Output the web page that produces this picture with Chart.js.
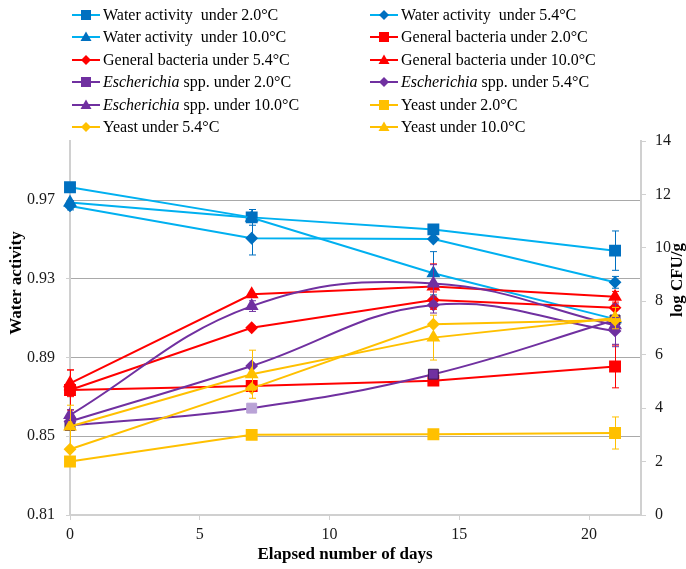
<!DOCTYPE html>
<html>
<head>
<meta charset="utf-8">
<script src="https://cdn.jsdelivr.net/npm/chart.js@4.4.1/dist/chart.umd.min.js"></script>
<style>
  body { margin: 0; background: #fff; }
  #wrap { position: relative; width: 686px; height: 569px; }
  #legend { position: absolute; left: 0; top: 0; width: 686px; height: 140px;
            font-family: "Liberation Serif", "Times New Roman", serif; font-size: 16px; color: #000; }
  .item { position: absolute; height: 20px; display: flex; align-items: center; white-space: pre; }
  .item svg { margin-right: 3px; }
</style>
</head>
<body>
<div id="wrap">
  <canvas id="chart" width="686" height="569"></canvas>
  <div id="legend"></div>
</div>
<script>
// days of storage
const days = [0, 7, 14, 21];

// water activity (left axis)
const wa20 = [0.9765, 0.9612, 0.9551, 0.9443];
const wa54 = [0.9670, 0.9506, 0.9502, 0.9282];
const wa100 = [0.9687, 0.9610, 0.9328, 0.9095];
const wa20Err = [0, 0.004, 0, 0.010];
const wa54Err = [0.002, 0.0085, 0, 0.003];
const wa100Err = [0.001, 0, 0.011, 0];

// log CFU/g (right axis)
const gb20 = [4.68, 4.83, 5.03, 5.56];
const gb54 = [4.68, 7.01, 8.05, 7.76];
const gb100 = [4.93, 8.26, 8.55, 8.17];
const gb20Err = [0.75, 0.2, 0, 0.8];
const gb54Err = [0, 0, 0.3, 0];
const gb100Err = [0.5, 0, 0.85, 0.2];

const es20 = [3.35, 4.00, 5.27, 7.30];
const es54 = [3.50, 5.58, 7.86, 6.89];
const es100 = [3.74, 7.82, 8.67, 7.10];
const es20Err = [0, 0, 0, 0];
const es54Err = [0, 0, 0.3, 0.5];
const es100Err = [0.2, 0.2, 0.7, 0.8];

const ye20 = [2.00, 3.00, 3.02, 3.07];
const ye54 = [2.46, 4.74, 7.14, 7.30];
const ye100 = [3.31, 5.27, 6.64, 7.37];
const ye20Err = [0, 0, 0, 0.6];
const ye54Err = [0, 0, 0, 0];
const ye100Err = [0.8, 0.9, 0.84, 0.4];

// tick labels
const xTicks = [0, 5, 10, 15, 20];
const leftTicks = [0.81, 0.85, 0.89, 0.93, 0.97];
const rightTicks = [0, 2, 4, 6, 8, 10, 12, 14];

const BLUE_LINE = '#00B0F0', BLUE = '#0070C0', RED = '#FF0000', PURPLE = '#7030A0', YELLOW = '#FFC000';

function serie(label, values, err, axis, line, mark, style, smooth) {
    return {
        label: label,
        data: values.map((v, i) => ({ x: days[i], y: v })),
        errors: err,
        yAxisID: axis,
        borderColor: line,
        backgroundColor: mark,
        pointBackgroundColor: mark,
        pointBorderColor: mark,
        pointStyle: style,
        pointRadius: style === 'rect' ? 7 : (style === 'triangle' ? 6 : 5),
        borderWidth: 2,
        tension: smooth ? 0.4 : 0,
        clip: false
    };
}

const datasets = [
    serie('Water activity  under 2.0°C', wa20, wa20Err, 'y', BLUE_LINE, BLUE, 'rect'),
    serie('Water activity  under 5.4°C', wa54, wa54Err, 'y', BLUE_LINE, BLUE, 'rectRot'),
    serie('Water activity  under 10.0°C', wa100, wa100Err, 'y', BLUE_LINE, BLUE, 'triangle'),
    serie('General bacteria under 2.0°C', gb20, gb20Err, 'y1', RED, RED, 'rect'),
    serie('General bacteria under 5.4°C', gb54, gb54Err, 'y1', RED, RED, 'rectRot'),
    serie('General bacteria under 10.0°C', gb100, gb100Err, 'y1', RED, RED, 'triangle'),
    serie('<i>Escherichia</i> spp. under 2.0°C', es20, es20Err, 'y1', PURPLE, PURPLE, 'rect', true),
    serie('<i>Escherichia</i> spp. under 5.4°C', es54, es54Err, 'y1', PURPLE, PURPLE, 'rectRot', true),
    serie('<i>Escherichia</i> spp. under 10.0°C', es100, es100Err, 'y1', PURPLE, PURPLE, 'triangle', true),
    serie('Yeast under 2.0°C', ye20, ye20Err, 'y1', YELLOW, YELLOW, 'rect'),
    serie('Yeast under 5.4°C', ye54, ye54Err, 'y1', YELLOW, YELLOW, 'rectRot'),
    serie('Yeast under 10.0°C', ye100, ye100Err, 'y1', YELLOW, YELLOW, 'triangle')
];
// later series drawn on top, like the original
datasets.forEach((d, i) => { d.order = -i; });
// lighter square on day 7 for Escherichia 2.0
datasets[6].pointBackgroundColor = [PURPLE, '#B9A3D6', PURPLE, PURPLE];
datasets[6].pointBorderColor = ['#3a1a55', '#B9A3D6', '#3a1a55', '#3a1a55'];
datasets[6].pointBorderWidth = 1;

// error bars
const errorBars = {
    id: 'errorBars',
    afterDatasetsDraw(chart) {
        const ctx = chart.ctx;
        const xs = chart.scales.x;
        ctx.save();
        ctx.lineWidth = 1;
        chart.data.datasets.forEach(ds => {
            const ys = chart.scales[ds.yAxisID];
            ctx.strokeStyle = ds.backgroundColor;
            ds.errors.forEach((e, i) => {
                if (!e) return;
                const x = Math.round(xs.getPixelForValue(days[i])) + 0.5;
                const v = ds.data[i].y;
                const top = ys.getPixelForValue(v + e);
                const bot = ys.getPixelForValue(v - e);
                ctx.beginPath();
                ctx.moveTo(x, top); ctx.lineTo(x, bot);
                ctx.moveTo(x - 3.5, top); ctx.lineTo(x + 3.5, top);
                ctx.moveTo(x - 3.5, bot); ctx.lineTo(x + 3.5, bot);
                ctx.stroke();
            });
        });
        ctx.restore();
    }
};

// axis titles (right one reads bottom to top)
const axisTitles = {
    id: 'axisTitles',
    afterDraw(chart) {
        const ctx = chart.ctx;
        ctx.save();
        ctx.fillStyle = '#000';
        ctx.font = 'bold 17px "Liberation Serif", "Times New Roman", serif';
        ctx.textAlign = 'center';
        ctx.textBaseline = 'middle';
        ctx.fillText('Elapsed number of days', 345, 555);
        ctx.translate(17, 283);
        ctx.rotate(-Math.PI / 2);
        ctx.fillText('Water activity', 0, 0);
        ctx.restore();
        ctx.save();
        ctx.fillStyle = '#000';
        ctx.font = 'bold 17px "Liberation Serif", "Times New Roman", serif';
        ctx.textAlign = 'center';
        ctx.textBaseline = 'middle';
        ctx.translate(678, 280);
        ctx.rotate(-Math.PI / 2);
        ctx.fillText('log CFU/g', 0, 0);
        ctx.restore();
    }
};

Chart.defaults.font.family = '"Liberation Serif", "Times New Roman", serif';
Chart.defaults.font.size = 16;
Chart.defaults.color = '#1a1a1a';

const AXIS = '#D0D0D0', GRID = '#A9A9A9';

new Chart(document.getElementById('chart'), {
    type: 'line',
    data: { datasets: datasets },
    options: {
        responsive: false,
        animation: false,
        layout: { padding: { top: 141, left: 0, right: 0, bottom: 0 } },
        plugins: { legend: { display: false }, tooltip: { enabled: false } },
        scales: {
            x: {
                type: 'linear',
                min: 0, max: 22,
                afterBuildTicks: s => { s.ticks = xTicks.map(v => ({ value: v })); },
                afterFit: s => { s.height = 54; },
                grid: { drawOnChartArea: false, tickLength: 5, tickColor: AXIS },
                border: { color: AXIS, width: 2 },
                ticks: { padding: 5, maxRotation: 0 }
            },
            y: {
                position: 'left',
                min: 0.81, max: 1.0,
                afterBuildTicks: s => { s.ticks = leftTicks.map(v => ({ value: v })); },
                afterFit: s => { s.width = 70; },
                grid: {
                    color: c => (c.tick && c.tick.value === 0.81) ? 'rgba(0,0,0,0)' : GRID,
                    tickLength: 4, tickColor: AXIS
                },
                border: { color: AXIS, width: 2 },
                ticks: { padding: 11, callback: v => v.toFixed(2) }
            },
            y1: {
                position: 'right',
                min: 0, max: 14,
                afterBuildTicks: s => { s.ticks = rightTicks.map(v => ({ value: v })); },
                afterFit: s => { s.width = 45; },
                grid: { drawOnChartArea: false, tickLength: 5, tickColor: AXIS },
                border: { color: AXIS, width: 2 },
                ticks: { padding: 9 }
            }
        }
    },
    plugins: [errorBars, axisTitles]
});

// legend in two columns, with mixed italic text
function marker(style, color) {
    if (style === 'rect') return `<rect x="9" y="1" width="10" height="10" fill="${color}"/>`;
    if (style === 'rectRot') return `<polygon points="14,1 19,6 14,11 9,6" fill="${color}"/>`;
    return `<polygon points="14,0.5 19.5,10 8.5,10" fill="${color}"/>`;
}

const legend = document.getElementById('legend');
datasets.forEach((d, i) => {
    const col = i % 2, row = Math.floor(i / 2);
    const el = document.createElement('div');
    el.className = 'item';
    el.style.left = (col === 0 ? 72 : 370) + 'px';
    el.style.top = (5 + row * 22.4) + 'px';
    el.innerHTML = `<svg width="28" height="12"><line x1="0" y1="6" x2="28" y2="6" stroke="${d.borderColor}" stroke-width="2"/>${marker(d.pointStyle, d.backgroundColor)}</svg><span>${d.label}</span>`;
    legend.appendChild(el);
});
</script>
</body>
</html>
